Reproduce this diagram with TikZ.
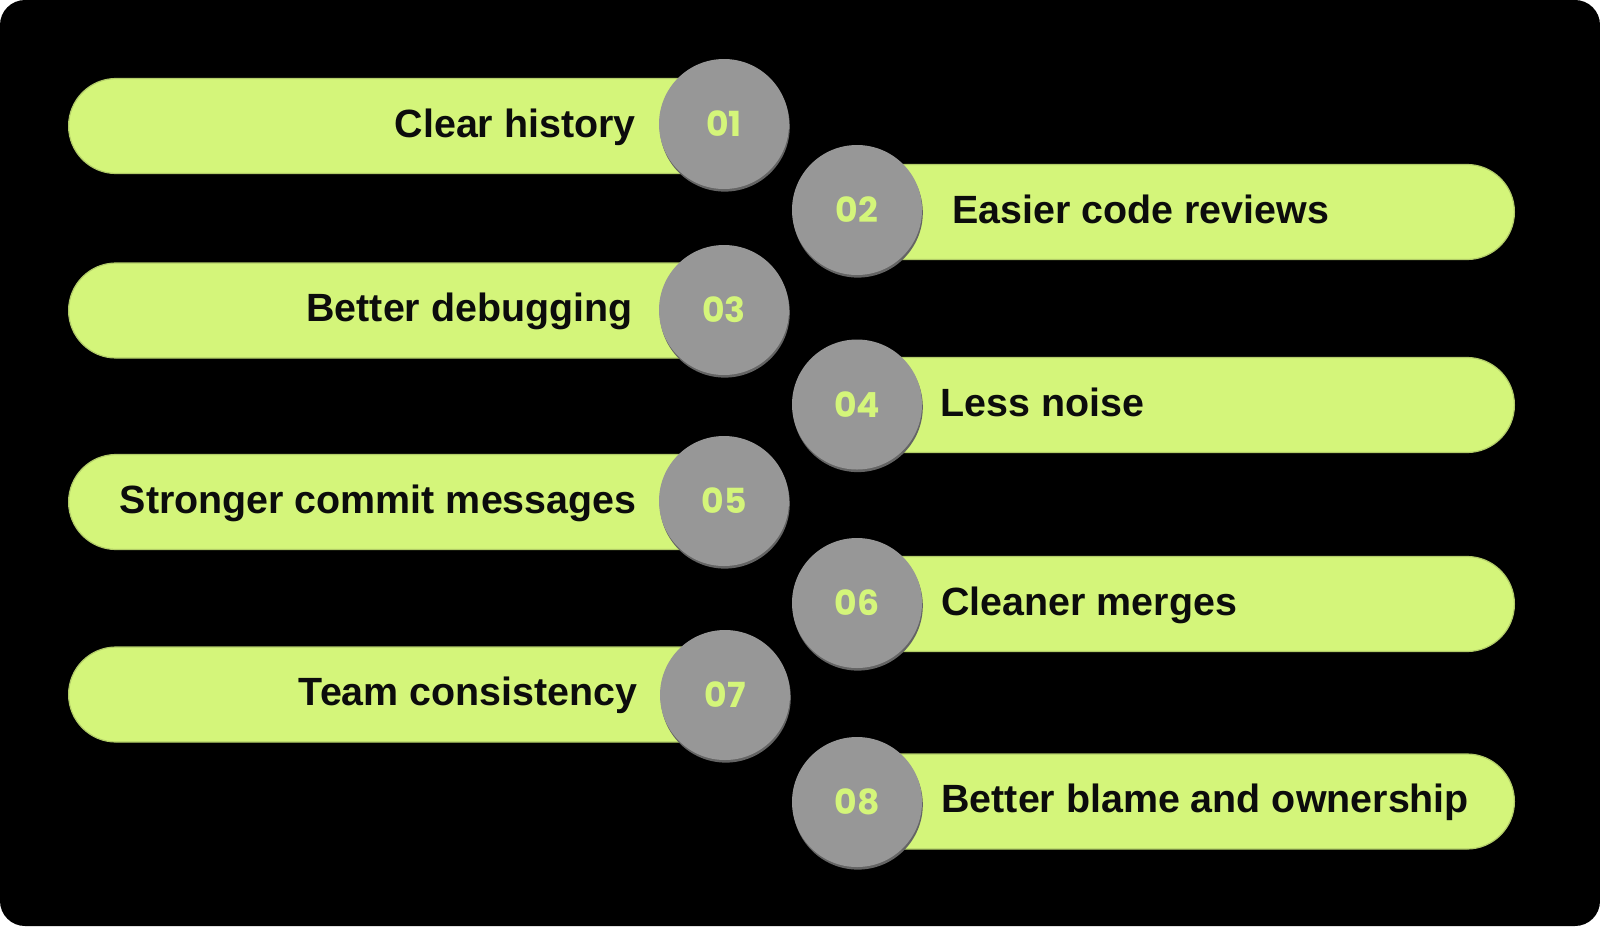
\documentclass[tikz,border=0pt]{standalone}
\usepackage{fontspec}
\setmainfont{Liberation Sans}
\newfontfamily\numfont{Poppins}
\usetikzlibrary{shapes.misc,shadows}
\definecolor{lime}{RGB}{212,245,122}
\definecolor{circgray}{RGB}{151,151,151}
\definecolor{shadowgray}{RGB}{100,100,100}
\definecolor{limeedge}{RGB}{178,204,104}
\definecolor{ink}{RGB}{12,12,12}
\tikzset{
  pillL/.style={rounded rectangle, rounded rectangle right arc=none, fill=lime,
    draw=limeedge, line width=0.6pt, minimum height=47.5pt, minimum width=328pt,
    inner sep=0pt, anchor=west},
  pillR/.style={rounded rectangle, rounded rectangle left arc=none, fill=lime,
    draw=limeedge, line width=0.6pt, minimum height=47.5pt, minimum width=329pt,
    inner sep=0pt, anchor=east},
  numc/.style={circle, fill=circgray, minimum size=65pt, inner sep=0pt,
    text=lime, font=\numfont\bfseries\fontsize{17.3}{20}\selectfont,
    drop shadow={shadow xshift=0.4pt, shadow yshift=-1.3pt, fill=shadowgray, opacity=1}},
  lbl/.style={inner sep=0pt, text=ink, font=\bfseries\fontsize{19.7}{23}\selectfont},
  lblL/.style={lbl, anchor=base east},
  lblR/.style={lbl, anchor=base west}
}
\begin{document}
\begin{tikzpicture}[x=0.5pt,y=-0.5pt]
\useasboundingbox (0,0) rectangle (1600,926);
\fill[white] (0,0) rectangle (1600,926);
\fill[black, rounded corners=12.5pt] (0,0) rectangle (1600,926);

% pills
\node[pillL] (p1) at (68,126) {};
\node[pillR] (p2) at (1515,212) {};
\node[pillL] (p3) at (68,310.5) {};
\node[pillR] (p4) at (1515,405) {};
\node[pillL] (p5) at (68,502) {};
\node[pillR] (p6) at (1515,604) {};
\node[pillL] (p7) at (68,694.5) {};
\node[pillR] (p8) at (1515,801.5) {};

% labels
\node[lblL] (t1) at (636,137) {Clear history};
\node[lblR] (t2) at (952,223) {Easier code reviews};
\node[lblL] (t3) at (633,321.5) {Better debugging};
\node[lblR] (t4) at (940,416) {Less noise};
\node[lblL] (t5) at (637,513) {Stronger commit messages};
\node[lblR] (t6) at (941,615) {Cleaner merges};
\node[lblL] (t7) at (638,705.5) {Team consistency};
\node[lblR] (t8) at (941,812.5) {Better blame and ownership};

% number circles
\node[numc] (n1) at (724,124) {01};
\node[numc] (n2) at (857,210) {02};
\node[numc] (n3) at (724,310) {03};
\node[numc] (n4) at (857,404.5) {04};
\node[numc] (n5) at (724,501) {05};
\node[numc] (n6) at (857,603) {06};
\node[numc] (n7) at (725,695) {07};
\node[numc] (n8) at (857,802) {08};
\end{tikzpicture}
\end{document}
